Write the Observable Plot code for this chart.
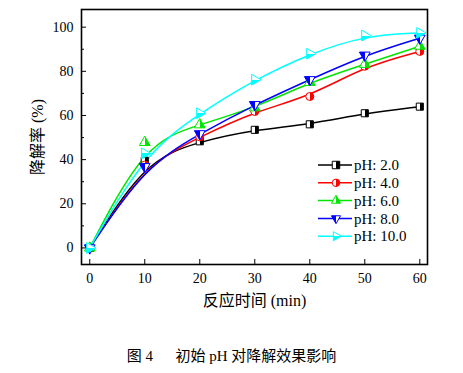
<!DOCTYPE html>
<html><head><meta charset="utf-8">
<script src="https://cdn.jsdelivr.net/npm/d3@7"></script>
<script src="https://cdn.jsdelivr.net/npm/@observablehq/plot@0.6"></script>
<style>
body{margin:0;background:#fff;}
#wrap{position:relative;width:463px;height:373px;font-family:"Liberation Serif","Noto Sans CJK SC",serif;color:#000;}
#wrap svg{position:absolute;left:0;top:0;}
#cap{position:absolute;left:0;width:463px;top:346px;text-align:center;font-size:15px;line-height:20px;font-family:"Liberation Serif","Noto Sans CJK SC",serif;}
</style></head><body><div id="wrap"></div><script>
const times = [0, 10, 20, 30, 40, 50, 60];
const ph2  = [0, 39.5, 48.3, 53.5, 56.0, 61.0, 64.0];
const ph4  = [0, 37.5, 50.3, 61.8, 68.6, 82.3, 89.0];
const ph6  = [0, 47.8, 55.8, 63.5, 75.0, 83.2, 91.4];
const ph8  = [0, 36.8, 51.7, 64.9, 76.2, 87.3, 95.0];
const ph10 = [0, 42.8, 61.0, 76.2, 88.0, 96.2, 97.4];
const seriesNames = ["pH: 2.0", "pH: 4.0", "pH: 6.0", "pH: 8.0", "pH: 10.0"];
const seriesValues = [ph2, ph4, ph6, ph8, ph10];
const colors = ["#000000", "#ff0000", "#00e600", "#0000ff", "#00ffff"];
const symbols = ["square", "circle", "triangle", "triangle", "triangle"];
const rotations = [0, 0, 0, 180, 90];
const xTicks = [0, 10, 20, 30, 40, 50, 60];
const yTicks = [0, 20, 40, 60, 80, 100];
const yMinor = [10, 30, 50, 70, 90];

const table = [];
seriesNames.forEach((s, i) => times.forEach((t, j) => table.push({series: s, i, t, v: seriesValues[i][j]})));

const wrap = document.getElementById("wrap");

const defs = d3.create("svg").attr("width", 0).attr("height", 0).style("position", "absolute");
const dg = defs.append("defs");
colors.forEach((c, i) => {
  const g = dg.append("linearGradient").attr("id", "half" + i).attr("x1", "0").attr("x2", "1").attr("y1", "0").attr("y2", "0");
  g.append("stop").attr("offset", "0.5").attr("stop-color", "#fff");
  g.append("stop").attr("offset", "0.5").attr("stop-color", c);
});
wrap.appendChild(defs.node());

const marks = [
  Plot.axisY({ticks: yTicks, tickSize: 0, tickPadding: 8, fontSize: 14, label: null}),
  Plot.axisY({ticks: yTicks, tickSize: 5, dx: 5, tickFormat: () => "", label: null}),
  Plot.axisY({ticks: yMinor, tickSize: 3, dx: 3, tickFormat: () => "", label: null}),
  Plot.axisX({ticks: xTicks, tickSize: 0, tickPadding: 9, fontSize: 14, label: null}),
  Plot.axisX({ticks: xTicks, tickSize: 5, dy: -5, tickFormat: () => "", label: null}),
  Plot.text(["降解率 (%)"], {frameAnchor: "left", dx: -44, rotate: -90, text: d => d, fontSize: 16, textAnchor: "middle"}),
  Plot.text(["反应时间 (min)"], {frameAnchor: "bottom", dy: 41, text: d => d, fontSize: 16, textAnchor: "middle"}),
];
seriesNames.forEach((s, i) => {
  const d = table.filter(r => r.i === i);
  marks.push(Plot.line(d, {x: "t", y: "v", stroke: colors[i], strokeWidth: 1.5, curve: "basis"}));
});
seriesNames.forEach((s, i) => {
  const d = table.filter(r => r.i === i);
  marks.push(Plot.dot(d, {x: "t", y: "v", symbol: () => symbols[i], r: 4, rotate: rotations[i], stroke: colors[i], strokeWidth: 1, fill: "white",
    render(index, scales, values, dims, context, next) {
      const g = next(index, scales, values, dims, context);
      d3.select(g).selectAll("path,circle").attr("fill", `url(#half${i})`);
      return g;
    }}));
});
marks.push(Plot.frame({stroke: "#000", strokeWidth: 1.6}));

const chart = Plot.plot({
  width: 463, height: 320,
  marginLeft: 81, marginRight: 36, marginTop: 9, marginBottom: 56,
  style: {fontFamily: '"Liberation Serif","Noto Sans CJK SC",serif', fontSize: "14px", color: "#000", background: "transparent"},
  x: {domain: [-1.5, 61.4]},
  y: {domain: [-7.5, 108]},
  symbol: {type: "identity"},
  marks
});
wrap.appendChild(chart);

const leg = d3.create("svg").attr("width", 463).attr("height", 320).style("pointer-events", "none");
seriesNames.forEach((s, i) => {
  const y = 165 + i * 17.8;
  leg.append("line").attr("x1", 318).attr("x2", 352).attr("y1", y).attr("y2", y).attr("stroke", colors[i]).attr("stroke-width", 1.5);
  const sym = {square: d3.symbolSquare, circle: d3.symbolCircle, triangle: d3.symbolTriangle}[symbols[i]];
  const area = symbols[i] === "square" ? 56 : symbols[i] === "circle" ? Math.PI * 14 : 36;
  leg.append("path").attr("d", d3.symbol(sym, area)()).attr("transform", `translate(336,${y}) rotate(${rotations[i]})`)
    .attr("fill", `url(#half${i})`).attr("stroke", colors[i]).attr("stroke-width", 1);
  leg.append("text").attr("x", 354).attr("y", y).attr("dy", "0.35em").attr("font-size", 15)
    .attr("font-family", '"Liberation Serif",serif').text(s);
});
wrap.appendChild(leg.node());

const cap = document.createElement("div");
cap.id = "cap";
cap.textContent = "图 4\u3000\u2002初始 pH 对降解效果影响";
wrap.appendChild(cap);
</script></body></html>
